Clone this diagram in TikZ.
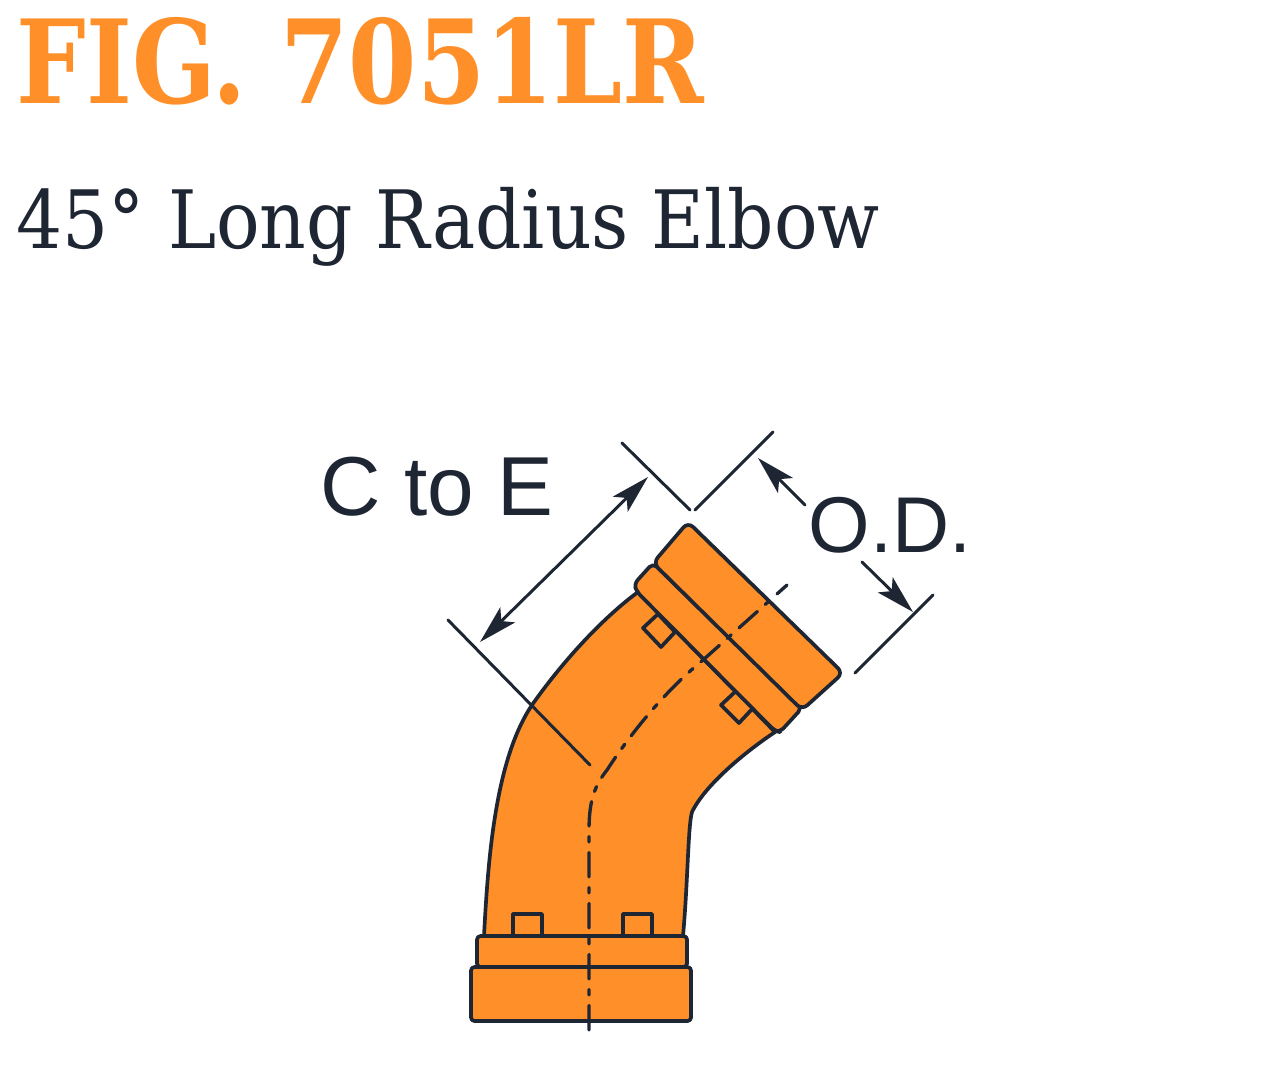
\documentclass[tikz,border=0pt]{standalone}
\usepackage{fontspec}
\setmainfont{Liberation Sans}
\newfontfamily\slabfont{DejaVu Serif Condensed}
\newfontfamily\titlefont[FakeStretch=.94]{DejaVu Serif Condensed}
\usetikzlibrary{arrows.meta}
\definecolor{elbow}{HTML}{FF9029}
\definecolor{ink}{HTML}{1F2633}
\tikzset{
	part/.style={draw=ink,fill=elbow,line width=1.05pt},
	thin line/.style={draw=ink,line width=.85pt},
	center line/.style={draw=ink,line width=.95pt,dash pattern=on 7pt off 3pt on 1.5pt off 3pt},
	dim/.style={draw=ink,line width=.85pt,<->},
	dim label/.style={text=ink,inner sep=0pt}
}
\begin{document}
\begin{tikzpicture}[x=.01cm,y=-.01cm,line join=round,line cap=round,>={Stealth[length=11pt,width=6pt,inset=2.5pt]}]
	\useasboundingbox (0,0) rectangle (1280,1090);
	\node (title) [anchor=base west,inner sep=0pt,text=elbow] at (16,103) {\titlefont\bfseries\fontsize{33}{33}\selectfont FIG. 7051LR};
	\node (subtitle) [anchor=base west,inner sep=0pt,text=ink] at (16,248) {\slabfont\fontsize{22.9}{23}\selectfont 45° Long Radius Elbow};
	% elbow body, then the two collars at each end
	\draw[part] (484,936) .. controls (488,860) and (495,760) .. (532,705) .. controls (560,665) and (600,620) .. (638,592)
		-- (775,732) .. controls (745,752) and (705,785) .. (692,812) .. controls (688,825) and (688,880) .. (683,936) -- cycle;
	\draw[part,rounded corners=1pt] (477,936) rectangle (687,967);
	\draw[part,rounded corners=1pt] (471,967) rectangle (691,1021);
	% small lugs
	\draw[part] (513,934) -- (513,914) -- (542,914) -- (542,934);
	\draw[part] (623,934) -- (623,914) -- (652,914) -- (652,934);
	\draw[part] (643,628) -- (658,614) -- (675,632) -- (661,647) -- cycle;
	\draw[part] (721,705) -- (736,691) -- (753,708) -- (739,723) -- cycle;
	\draw[part,rounded corners=1.5pt] (637,592) -- (634,584) -- (653,563) -- (802,708) -- (780,732) -- (775,731) -- cycle;
	\draw[part,rounded corners=2pt] (653,563) -- (688,522) -- (843,673) -- (802,710) -- cycle;
	\draw[center line] (589,1030) -- (589,830) .. controls (589,800) and (595,785) .. (607,770) .. controls (625,742) and (660,695) .. (703,660) -- (787,585);
	% dimensions
	\coordinate (ca) at (448,620);
	\coordinate (cb) at (590,765);
	\coordinate (ec) at (622,443);
	\coordinate (ed) at (690,510);
	\coordinate (oa) at (773,432);
	\coordinate (ob) at (695,510);
	\coordinate (oc) at (933,595);
	\coordinate (od) at (855,673);
	\draw[thin line] (ca) -- (cb);
	\draw[thin line] (ec) -- (ed);
	\draw[thin line] (oa) -- (ob);
	\draw[thin line] (oc) -- (od);
	\coordinate (ctoea) at (480,642);
	\coordinate (ctoeb) at (648,477);
	\draw[dim] (ctoea) -- (ctoeb);
	\node (ctoe) [dim label] at (437,487) {\fontsize{23.8}{24}\selectfont C to E};
	\node (odlabel) [dim label] at (890,525) {\fontsize{22.5}{24}\selectfont O.D.};
	\coordinate (oda) at (758,458);
	\coordinate (odb) at (805,505);
	\coordinate (odc) at (862,562);
	\coordinate (odd) at (913,612);
	\draw[thin line,<-] (oda) -- (odb);
	\draw[thin line,->] (odc) -- (odd);
\end{tikzpicture}
\end{document}
